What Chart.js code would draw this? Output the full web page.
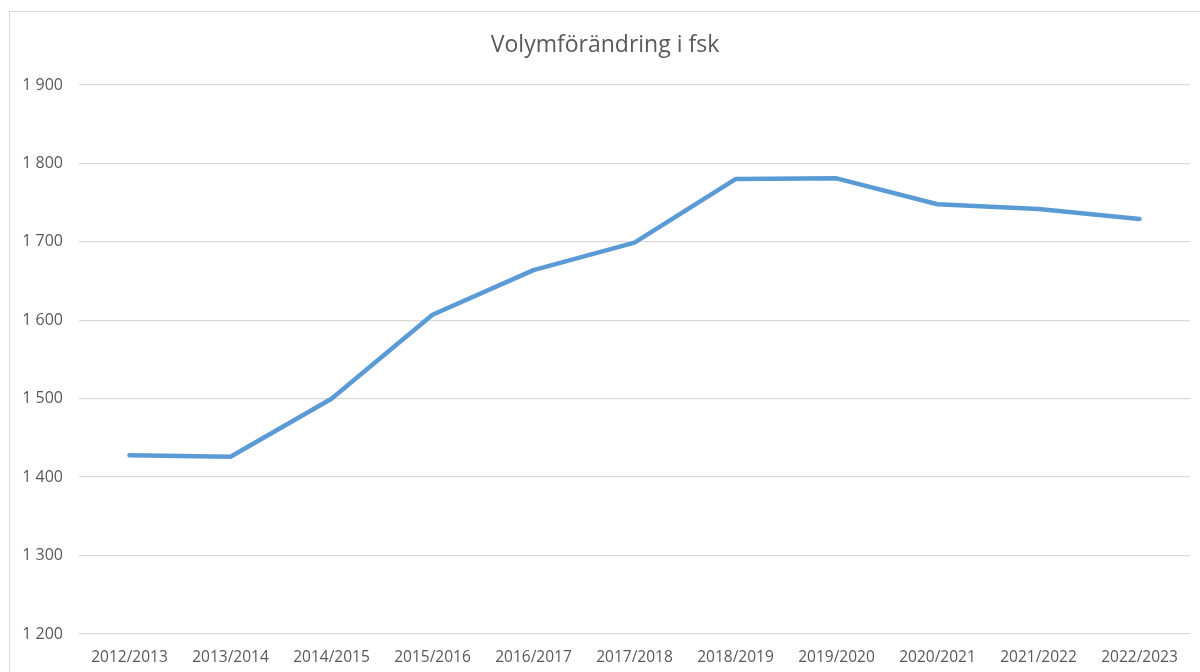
<!DOCTYPE html>
<html>
<head>
<meta charset="utf-8">
<script src="https://cdn.jsdelivr.net/npm/chart.js@4"></script>
<style>
  html, body { margin: 0; padding: 0; background: #fff; }
  #wrap { position: relative; width: 1200px; height: 672px; overflow: hidden; }
  #frame { position: absolute; left: 9px; top: 11px; width: 1300px; height: 800px; border: 1px solid #d9d9d9; box-sizing: border-box; }
  #c { position: absolute; left: 0; top: 0; }
</style>
</head>
<body>
<div id="wrap">
  <div id="frame"></div>
  <canvas id="c" width="1200" height="672"></canvas>
</div>
<script>
/* Volymförändring i fsk - linjediagram */

const seasons = ['2012/2013', '2013/2014', '2014/2015', '2015/2016', '2016/2017', '2017/2018',
                 '2018/2019', '2019/2020', '2020/2021', '2021/2022', '2022/2023'];
const volumes = [1428, 1426, 1500, 1607, 1664, 1699, 1780, 1781, 1748, 1742, 1729];
const yMin = 1200;
const yMax = 1900;
const yStep = 100;
const chartTitle = 'Volymförändring i fsk';

const FONT = '"Open Sans", "Liberation Sans", sans-serif';
const TXT = '#595959';

// titeln ritas för hand så att diagramytan inte flyttas
const titlePlugin = {
  id: 'fixedTitle',
  afterDraw(chart) {
    const ctx = chart.ctx;
    ctx.save();
    ctx.font = '23px ' + FONT;
    ctx.fillStyle = TXT;
    ctx.textAlign = 'center';
    ctx.textBaseline = 'middle';
    ctx.fillText(chartTitle, 605, 45);
    ctx.restore();
  }
};

new Chart(document.getElementById('c'), {
  type: 'line',
  data: {
    labels: seasons,
    datasets: [{
      label: chartTitle,
      data: volumes,
      borderColor: '#5b9bd5',
      borderWidth: 4.5,
      borderCapStyle: 'round',
      borderJoinStyle: 'round',
      pointRadius: 0,
      tension: 0,
      fill: false,
    }]
  },
  plugins: [titlePlugin],
  options: {
    responsive: false,
    animation: false,
    layout: { padding: { left: 0, right: 10, top: 85, bottom: 0 } },
    plugins: {
      legend: { display: false },
      tooltip: { enabled: false },
      title: { display: false }
    },
    scales: {
      x: {
        offset: true,
        grid: { display: false },
        border: { display: false },
        ticks: { color: TXT, font: { family: FONT, size: 15.5 }, maxRotation: 0, padding: 6 },
        afterFit(scale) { scale.height = 38; }
      },
      y: {
        min: yMin,
        max: yMax,
        grid: { color: '#d9d9d9', lineWidth: 1.3, drawTicks: false },
        border: { display: false },
        ticks: {
          stepSize: yStep,
          color: TXT,
          padding: 16,
          font: { family: FONT, size: 16 },
          callback: v => String(v).replace(/\B(?=(\d{3})+(?!\d))/g, ' ')
        },
        afterFit(scale) { scale.width = 79; }
      }
    }
  }
});
</script>
</body>
</html>
